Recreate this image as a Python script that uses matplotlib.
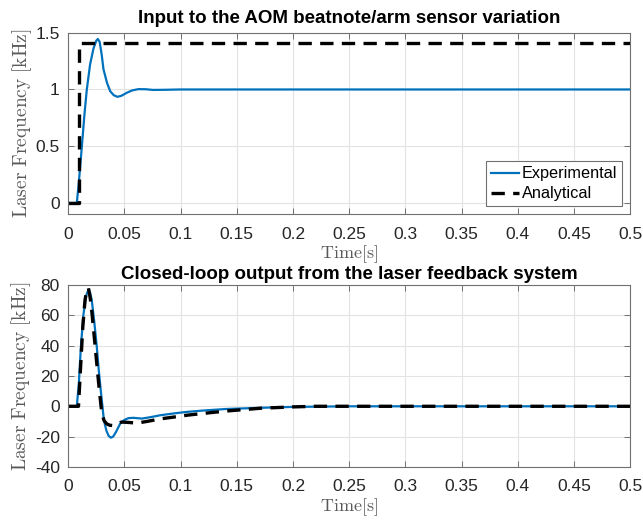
import numpy as np
import matplotlib.pyplot as plt

plt.rcParams['font.family'] = ['Liberation Sans', 'DejaVu Sans']
plt.rcParams['mathtext.fontset'] = 'cm'

# top panel: input step (kHz vs s)
t_exp_in = [0, 0.0077, 0.0095, 0.0122, 0.0145, 0.0166, 0.0195, 0.0225, 0.0250, 0.0264,
            0.0280, 0.0298, 0.0314, 0.0345, 0.0374, 0.0405, 0.0439, 0.0475, 0.052,
            0.057, 0.0626, 0.069, 0.0755, 0.085, 0.10, 0.2, 0.3, 0.4, 0.5]
f_exp_in = [0, 0, 0.18, 0.50, 0.78, 1.00, 1.22, 1.36, 1.43, 1.445,
            1.42, 1.31, 1.18, 1.06, 0.985, 0.95, 0.935, 0.945, 0.97,
            0.992, 1.003, 1.002, 0.996, 0.997, 1.0, 1.0, 1.0, 1.0, 1.0]
t_ana_in = [0, 0.0095, 0.0095, 0.5]
f_ana_in = [0, 0, 1.41, 1.41]

# bottom panel: closed-loop output (kHz vs s)
t_exp_out = [0, 0.0077, 0.0095, 0.0113, 0.0135, 0.0160, 0.0181, 0.0195, 0.0210, 0.0232,
             0.0255, 0.0272, 0.0290, 0.0305, 0.0318, 0.0340, 0.0360, 0.0380, 0.0400,
             0.0425, 0.0463, 0.0500, 0.0537, 0.0580, 0.0655, 0.0730, 0.082, 0.095,
             0.1056, 0.12, 0.14, 0.171, 0.20, 0.25, 0.3, 0.4, 0.5]
f_exp_out = [0, 0, 15, 39, 60, 73, 77, 75, 70, 56,
             39, 24, 10.5, 0, -9.2, -16, -19.5, -20.7, -20,
             -17, -11.4, -9, -7.8, -7.6, -8.1, -7.2, -5.9, -4.6,
             -3.7, -2.8, -1.8, -1.0, -0.4, 0, 0, 0, 0]
t_ana_out = [0, 0.0092, 0.0110, 0.0130, 0.0150, 0.0166, 0.0180, 0.0195, 0.0210, 0.0232,
             0.0255, 0.0278, 0.0300, 0.0320, 0.0344, 0.0370, 0.0403, 0.0440, 0.0474,
             0.0530, 0.0610, 0.070, 0.082, 0.095, 0.1056, 0.12, 0.141, 0.171, 0.20,
             0.22, 0.3, 0.4, 0.5]
f_ana_out = [0, 0, 25, 52, 70, 77, 78, 72, 63, 46,
             28, 10, -4.8, -9.5, -11.6, -12.5, -12.7, -11.5, -10.4,
             -10.6, -11.1, -10.0, -8.3, -7.0, -5.9, -4.7, -3.1, -1.3, -0.4,
             0, 0, 0, 0]

xticks = np.arange(0, 0.51, 0.05)
xtick_labels = ['0', '0.05', '0.1', '0.15', '0.2', '0.25', '0.3', '0.35', '0.4', '0.45', '0.5']

fig = plt.figure(figsize=(6.43, 5.2), dpi=100)
ax1 = fig.add_axes([0.106, 0.588, 0.874, 0.349])
ax2 = fig.add_axes([0.106, 0.102, 0.874, 0.350])

blue = '#0072BD'
label_col = '#5a5a5a'
tick_col = '#262626'

def style(ax):
    ax.set_xlim(0, 0.5)
    ax.set_xticks(xticks)
    ax.set_xticklabels(xtick_labels)
    ax.grid(True, color='#e3e3e3', linewidth=0.8)
    ax.set_axisbelow(True)
    ax.tick_params(direction='in', top=True, right=True, length=4,
                   width=0.7, color='#707070', labelsize=12.5,
                   labelcolor=tick_col)
    ax.tick_params(axis='x', pad=9)
    ax.tick_params(axis='y', pad=6)
    for s in ax.spines.values():
        s.set_color('#707070')
        s.set_linewidth(0.8)
    ax.set_xlabel(r'$\mathrm{Time[s]}$', fontsize=13, color=label_col, labelpad=1)
    ax.set_ylabel(r'$\mathrm{Laser\ Frequency\ [kHz]}$', fontsize=14,
                  color=label_col, labelpad=1)

ax1.plot(t_exp_in, f_exp_in, color=blue, linewidth=1.6, label='Experimental')
ax1.plot(t_ana_in, f_ana_in, color='black', linewidth=2.4, linestyle=(0, (4, 2.5)),
         label='Analytical')
ax1.set_ylim(-0.1, 1.5)
ax1.set_yticks([0, 0.5, 1, 1.5])
ax1.set_yticklabels(['0', '0.5', '1', '1.5'])
style(ax1)
ax1.set_title('Input to the AOM beatnote/arm sensor variation', fontsize=13.5,
              fontweight='bold', pad=7)
leg = ax1.legend(loc='lower right', fontsize=11.7, handlelength=1.75, handletextpad=0.15,
                 borderpad=0.3, labelspacing=0.3, fancybox=False, framealpha=1,
                 borderaxespad=0.5)
leg.get_frame().set_edgecolor('#707070')
leg.get_frame().set_linewidth(0.8)

ax2.plot(t_exp_out, f_exp_out, color=blue, linewidth=1.6)
ax2.plot(t_ana_out, f_ana_out, color='black', linewidth=2.4, linestyle=(0, (4, 2.5)))
ax2.set_ylim(-40, 80)
ax2.set_yticks([-40, -20, 0, 20, 40, 60, 80])
ax2.set_yticklabels(['-40', '-20', '0', '20', '40', '60', '80'])
style(ax2)
ax2.set_title('Closed-loop output from the laser feedback system', fontsize=13.5,
              fontweight='bold', pad=4)

fig.savefig('out.png', dpi=100)
